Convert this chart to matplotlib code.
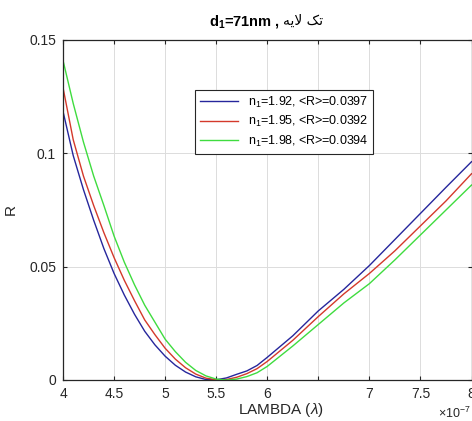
import matplotlib
matplotlib.use('Agg')
import matplotlib.pyplot as plt

plt.rcParams['font.family'] = ['Liberation Sans', 'DejaVu Sans']
plt.rcParams['mathtext.fontset'] = 'custom'
plt.rcParams['mathtext.rm'] = 'Liberation Sans'
plt.rcParams['mathtext.it'] = 'Liberation Sans:italic'
plt.rcParams['mathtext.bf'] = 'Liberation Sans:bold'

# wavelength in units of 1e-7 m
lam = [4.0, 4.1, 4.2, 4.3, 4.4, 4.5, 4.6, 4.7, 4.8, 4.9,
       5.0, 5.1, 5.2, 5.3, 5.4, 5.5, 5.6, 5.7, 5.8, 5.9,
       6.0, 6.25, 6.5, 6.75, 7.0, 7.25, 7.5, 7.75, 8.0]

r_192 = [0.1185, 0.099, 0.084, 0.0705, 0.058, 0.047, 0.0375, 0.029, 0.0215, 0.0155,
         0.0105, 0.0065, 0.0035, 0.0014, 0.0002, 0.0001, 0.0009, 0.0025, 0.0040, 0.0064,
         0.0100, 0.0195, 0.0305, 0.0400, 0.0505, 0.0620, 0.0735, 0.0850, 0.0963]
r_195 = [0.129, 0.106, 0.090, 0.077, 0.065, 0.054, 0.044, 0.035, 0.0265, 0.0200,
         0.0140, 0.0092, 0.0054, 0.0026, 0.0008, 0.0001, 0.0002, 0.0012, 0.0028, 0.0050,
         0.0082, 0.0175, 0.0280, 0.0380, 0.0470, 0.0570, 0.0680, 0.0790, 0.0910]
r_198 = [0.141, 0.122, 0.105, 0.090, 0.077, 0.0635, 0.052, 0.042, 0.033, 0.0255,
         0.0180, 0.0125, 0.0078, 0.0042, 0.0018, 0.0004, 0.0000, 0.0004, 0.0015, 0.0032,
         0.0060, 0.0150, 0.0245, 0.0340, 0.0425, 0.0530, 0.0640, 0.0750, 0.0860]

labels = ['n$_1$=1.92, <R>=0.0397',
          'n$_1$=1.95, <R>=0.0392',
          'n$_1$=1.98, <R>=0.0394']
colors = ['#26269c', '#d4392b', '#3fdc3f']

xticks = [4, 4.5, 5, 5.5, 6, 6.5, 7, 7.5, 8]
xticklabels = ['4', '4.5', '5', '5.5', '6', '', '7', '7.5', '8']
yticks = [0, 0.05, 0.1, 0.15]
yticklabels = ['0', '0.05', '0.1', '0.15']

# Persian "تک لایه" in visual order with presentation forms
persian = '\uFEEA\uFBFE\uFEFB \uFB8F\uFE97'

fig = plt.figure(figsize=(4.72, 4.21), dpi=100)
ax = fig.add_axes([0.1335, 0.0974, 0.8655, 0.8076])

for r, c, lab in zip([r_192, r_195, r_198], colors, labels):
    ax.plot(lam, r, color=c, lw=1.0, label=lab)

ax.set_xlim(4, 8)
ax.set_ylim(0, 0.15)
ax.set_xticks(xticks)
ax.set_xticklabels(xticklabels)
ax.set_yticks(yticks)
ax.set_yticklabels(yticklabels)
ax.grid(True, color='#dcdcdc', lw=0.7)
ax.set_axisbelow(True)
ax.tick_params(direction='in', length=3, width=0.8, top=True, right=True,
               labelsize=10, colors='#262626', pad=5)
for s in ax.spines.values():
    s.set_color('#262626')
    s.set_linewidth(0.9)

ax.set_xlabel('LAMBDA ($\\lambda$)', fontsize=11, color='#262626')
ax.xaxis.set_label_coords(0.534, -0.062)
ax.set_ylabel('R', fontsize=11, color='#262626')
ax.yaxis.set_label_coords(-0.11, 0.5)

# title in two parts so the Persian words get a font that has the glyphs
fig.text(281 / 472, 1 - 22 / 421, '$\\mathbf{d_1}$=71nm , ', fontsize=10.5,
         fontweight='bold', ha='right', va='center')
fig.text(283 / 472, 1 - 21 / 421, persian, fontsize=10, family='DejaVu Sans',
         ha='left', va='center')

fig.text(438 / 472, 0.006, '$\\times$10$^{-7}$', fontsize=9, color='#262626')

leg = ax.legend(loc='upper left', bbox_to_anchor=(0.308, 0.872), fontsize=9,
                handlelength=3.0, frameon=True, fancybox=False, framealpha=1,
                borderpad=0.4, labelspacing=0.35)
leg.get_frame().set_edgecolor('#262626')
leg.get_frame().set_linewidth(0.8)

fig.savefig('out.png', dpi=100)
